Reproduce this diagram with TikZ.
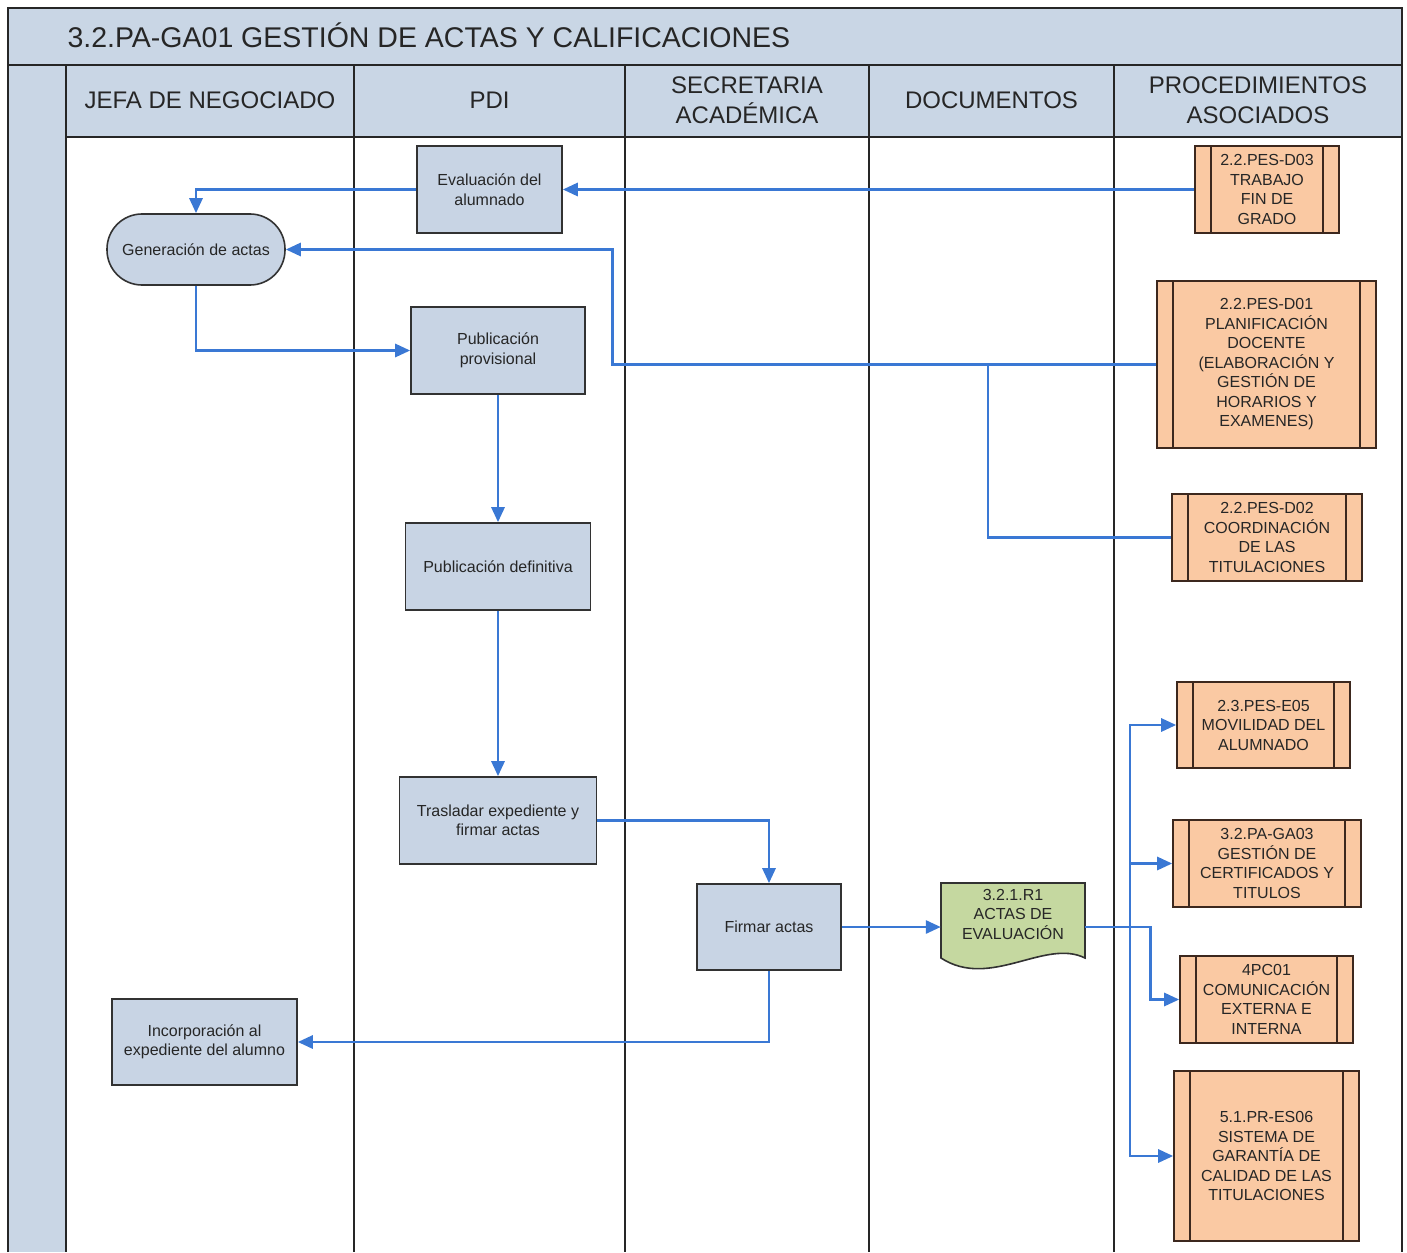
\documentclass[tikz,border=0pt]{standalone}
\usepackage{fontspec}
\setmainfont{Liberation Sans}
\usetikzlibrary{arrows.meta}

\definecolor{lanefill}{RGB}{201,214,229}
\definecolor{boxfill}{RGB}{200,212,228}
\definecolor{procfill}{RGB}{250,201,163}
\definecolor{procline}{RGB}{60,40,30}
\definecolor{docfill}{RGB}{197,216,160}
\definecolor{flowblue}{RGB}{58,120,212}
\definecolor{boxline}{RGB}{50,50,50}

\begin{document}
\begin{tikzpicture}[x=1pt,y=-1pt,>={Triangle[length=15pt,width=13pt]},
  font=\fontsize{16}{19.5}\selectfont,
  lane/.style={line width=1.8pt,draw=black!85},
  lanehead/.style={align=center,font=\fontsize{24}{30}\selectfont,text=black!85},
  task/.style={draw=boxline,fill=boxfill,line width=1.6pt,align=center,inner sep=2pt,text=black!85},
  proc/.style={draw=procline,fill=procfill,line width=1.6pt,align=center,inner sep=1pt,text=black!85},
  link/.style={draw=flowblue,line width=2.8pt},
  flow/.style={link,->}]
  \useasboundingbox (0,0) rectangle (1407,1252);
  \fill[white] (0,0) rectangle (1407,1252);
  % pool with title band, header row and the lanes
  \fill[lanefill] (8,8) rectangle (1402,65);
  \fill[lanefill] (8,65) rectangle (66,1252);
  \fill[lanefill] (66,65) rectangle (1402,137);
  \draw[lane] (8,1252) -- (8,8) -- (1402,8) -- (1402,1252);
  \draw[lane] (8,65) -- (1402,65);
  \draw[lane] (66,137) -- (1402,137);
  \foreach \x in {66,354,625,869,1114} \draw[lane] (\x,65) -- (\x,1252);
  \node[anchor=west,font=\fontsize{28.5}{32}\selectfont,text=black!85] (title) at (64,35) {3.2.PA-GA01 GESTIÓN DE ACTAS Y CALIFICACIONES};
  \node[lanehead] (hjefa) at (210,100) {JEFA DE NEGOCIADO};
  \node[lanehead] (hpdi) at (489.5,100) {PDI};
  \node[lanehead] (hsec) at (747,100) {SECRETARIA\\ACADÉMICA};
  \node[lanehead] (hdoc) at (991.5,100) {DOCUMENTOS};
  \node[lanehead] (hproc) at (1258,100) {PROCEDIMIENTOS\\ASOCIADOS};
  % activities
  \node[task,minimum width=145,minimum height=87] (eval) at (489.5,189.5) {Evaluación del\\alumnado};
  \node[task,minimum width=178,minimum height=71,rounded corners=35pt] (gen) at (196,249.5) {Generación de actas};
  \node[task,minimum width=174,minimum height=87] (prov) at (498,350.5) {Publicación\\provisional};
  \node[task,minimum width=185,minimum height=87] (def) at (498,566.5) {Publicación definitiva};
  \node[task,minimum width=197,minimum height=87] (tras) at (498,820.5) {Trasladar expediente y\\firmar actas};
  \node[task,minimum width=144,minimum height=86] (firmar) at (769,927) {Firmar actas};
  \node[task,minimum width=185,minimum height=86] (inc) at (204.5,1042) {Incorporación al\\expediente del alumno};
  % the record, a sheet with a wavy lower edge
  \filldraw[fill=docfill,draw=boxline,line width=1.6pt] (941,883) -- (1085,883) -- (1085,958)
    .. controls (1045,938) and (990,990) .. (941,958) -- cycle;
  \node[align=center,minimum width=144,minimum height=62,inner sep=0pt,text=black!85] (doc) at (1013,914) {3.2.1.R1\\ACTAS DE\\EVALUACIÓN};
  % related procedures
  \node[proc,minimum width=144,minimum height=87] (d03) at (1267,189.5) {2.2.PES-D03\\TRABAJO\\FIN DE\\GRADO};
  \node[proc,minimum width=219,minimum height=167] (d01) at (1266.5,364.5) {2.2.PES-D01\\PLANIFICACIÓN\\DOCENTE\\(ELABORACIÓN Y\\GESTIÓN DE\\HORARIOS Y\\EXAMENES)};
  \node[proc,minimum width=190,minimum height=87] (d02) at (1267,537.5) {2.2.PES-D02\\COORDINACIÓN\\DE LAS\\TITULACIONES};
  \node[proc,minimum width=173,minimum height=86] (e05) at (1263.5,725) {2.3.PES-E05\\MOVILIDAD DEL\\ALUMNADO};
  \node[proc,minimum width=188,minimum height=87] (ga03) at (1267,863.5) {3.2.PA-GA03\\GESTIÓN DE\\CERTIFICADOS Y\\TITULOS};
  \node[proc,minimum width=173,minimum height=87] (pc01) at (1266.5,999.5) {4PC01\\COMUNICACIÓN\\EXTERNA E\\INTERNA};
  \node[proc,minimum width=185,minimum height=170] (pr06) at (1266.5,1156) {5.1.PR-ES06\\SISTEMA DE\\GARANTÍA DE\\CALIDAD DE LAS\\TITULACIONES};
  \foreach \p in {d03,d01,d02,e05,ga03,pc01,pr06} {
    \draw[procline,line width=1.6pt] ([xshift=17pt]\p.north west) -- ([xshift=17pt]\p.south west);
    \draw[procline,line width=1.6pt] ([xshift=-17pt]\p.north east) -- ([xshift=-17pt]\p.south east);
  }
  % flows
  \coordinate (join) at (988,364.5);
  \coordinate (bus) at (1130,927);
  \draw[flow] (d03.west) -- (eval.east);
  \draw[flow] (eval.west) -| (gen.north);
  \draw[flow] (d01.west) -- ++(-544,0) |- (gen.east);
  \draw[link] (d02.west) -| (join);
  \draw[flow] (gen.south) |- (prov.west);
  \draw[flow] (prov.south) -- (def.north);
  \draw[flow] (def.south) -- (tras.north);
  \draw[flow] (tras.east) -| (firmar.north);
  \draw[flow] (firmar.east) -- (firmar.east -| doc.west);
  \draw[flow] (firmar.south) |- (inc.east);
  \draw[link] (firmar.east -| doc.east) -- (bus);
  \draw[flow] (bus) |- (e05.west);
  \draw[flow] (bus) |- (ga03.west);
  \draw[flow] (bus) |- (pr06.west);
  \draw[flow] (firmar.east -| doc.east) -- ++(65,0) |- (pc01.west);
\end{tikzpicture}
\end{document}
